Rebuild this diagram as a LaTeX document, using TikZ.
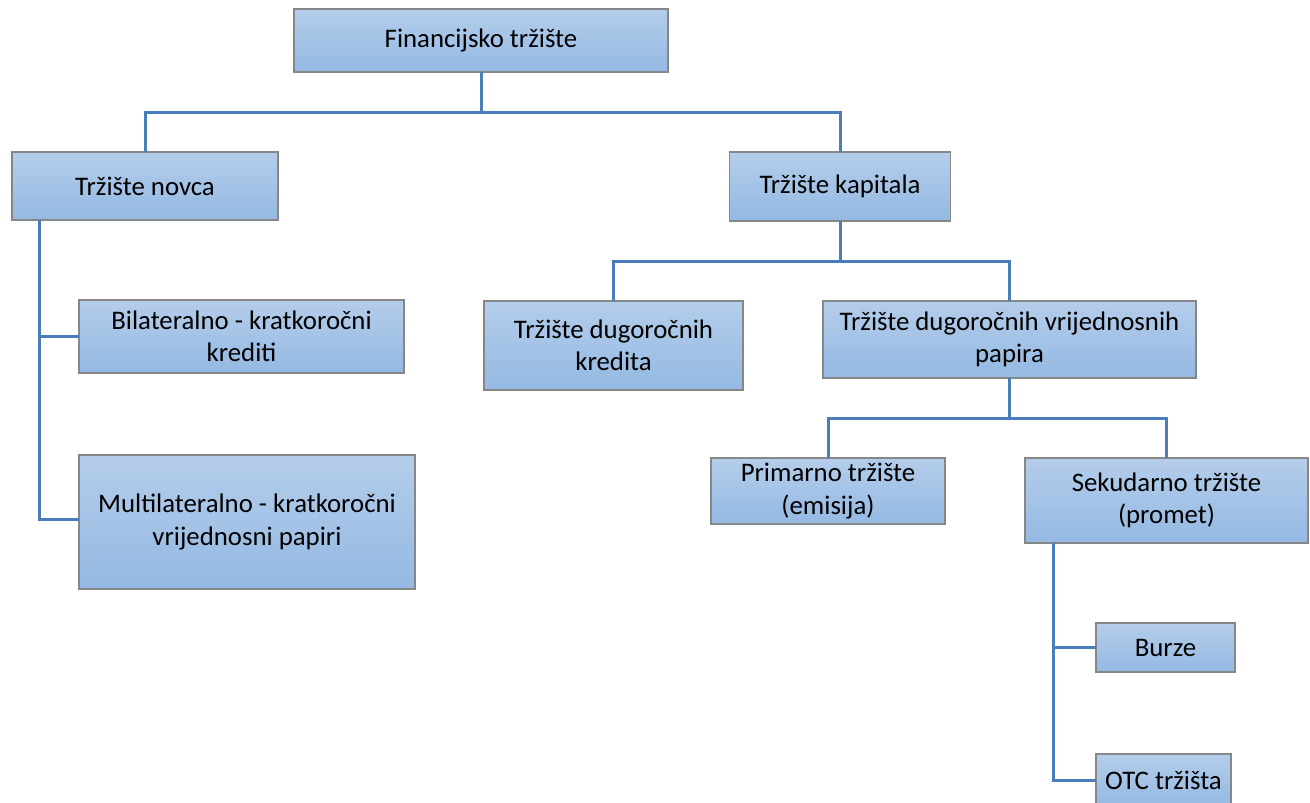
\documentclass[tikz,border=0pt]{standalone}
\usepackage{fontspec}
\setmainfont{Carlito}
\definecolor{boxtop}{RGB}{180,205,234}
\definecolor{boxbot}{RGB}{148,185,227}
\definecolor{boxline}{RGB}{135,135,135}
\definecolor{conn}{RGB}{74,126,187}
\tikzset{
  box/.style={draw=boxline, line width=1.4pt, top color=boxtop, bottom color=boxbot,
    inner sep=0pt, outer sep=0pt, align=center, text=black,
    font=\fontsize{26.8}{32.5}\selectfont},
  link/.style={draw=conn, line width=3pt}
}
\begin{document}
\begin{tikzpicture}[x=1pt,y=-1pt]
\useasboundingbox (0,0) rectangle (1310,803);
\clip (0,0) rectangle (1310,803);
\coordinate (t1) at (481,112);
\coordinate (t2) at (840,261);
\coordinate (t3) at (1009.5,418);
\coordinate (l1) at (39,220);
\coordinate (l2) at (1053,543);
\node[box, minimum width=374pt, minimum height=63pt] (a) at (481,40.5) {Financijsko tržište};
\node[box, minimum width=266pt, minimum height=68pt] (b) at (145,186) {Tržište novca};
\node[box, minimum width=221pt, minimum height=69pt] (c) at (840,186.5) {Tržište kapitala};
\node[box, minimum width=325pt, minimum height=73pt] (d) at (241.5,336.5) {Bilateralno - kratkoročni\\krediti};
\node[box, minimum width=336pt, minimum height=134pt] (e) at (247,522) {Multilateralno - kratkoročni\\vrijednosni papiri};
\node[box, minimum width=259pt, minimum height=89pt] (f) at (613.5,345.5) {Tržište dugoročnih\\kredita};
\node[box, minimum width=373pt, minimum height=77pt] (g) at (1009.5,339.5) {Tržište dugoročnih vrijednosnih\\papira};
\node[box, minimum width=234pt, minimum height=66pt] (h) at (828,491) {Primarno tržište\\(emisija)};
\node[box, minimum width=283pt, minimum height=85pt] (i) at (1166.5,500.5) {Sekudarno tržište\\(promet)};
\node[box, minimum width=139pt, minimum height=49pt] (j) at (1165.5,647.5) {Burze};
\node[box, minimum width=135pt, minimum height=52pt] (k) at (1163.5,780) {OTC tržišta};
\draw[link] (a.south) -- (t1);
\draw[link] (b.north) |- (t1) -| (c.north);
\draw[link] (c.south) -- (t2);
\draw[link] (f.north) |- (t2) -| (g.north);
\draw[link] (g.south) -- (t3);
\draw[link] (h.north) |- (t3) -| (i.north);
\draw[link] (l1) |- (39,519) -- (e.west |- 0,519);
\draw[link] (d.west) -- (d.west -| l1);
\draw[link] (l2) |- (k.west);
\draw[link] (j.west) -- (j.west -| l2);
\end{tikzpicture}
\end{document}
